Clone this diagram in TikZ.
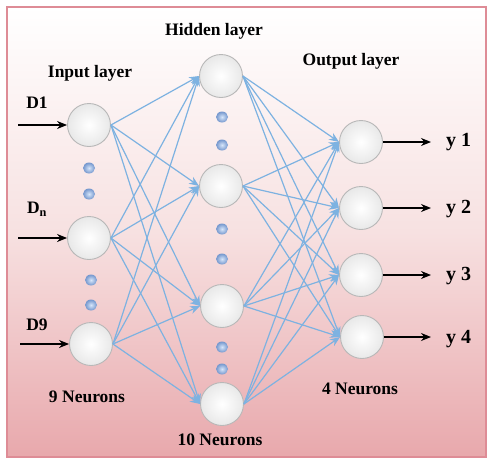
\documentclass[tikz,border=0pt]{standalone}
\usepackage{fontspec}
\setmainfont{Liberation Serif}
\usetikzlibrary{arrows.meta,calc,shapes.geometric}
\definecolor{linkblue}{RGB}{125,178,225}
\definecolor{framepink}{RGB}{222,140,150}
\definecolor{bgpink}{RGB}{232,168,172}
\definecolor{dotin}{RGB}{215,230,250}
\definecolor{dotout}{RGB}{115,150,205}
\tikzset{
  neuron/.style={circle, minimum size=43pt, inner sep=0pt, draw=black!28, line width=0.9pt,
    inner color=white, outer color=black!9},
  dotball/.style={ellipse, minimum width=12pt, minimum height=11pt, inner sep=0pt, inner color=dotin, outer color=dotout},
  link/.style={draw=linkblue, line width=1.2pt, -{Stealth[length=10pt,width=8pt]}},
  ioarrow/.style={draw=black, line width=1.2pt, -{Stealth[length=10pt,width=8pt]}},
  lbl/.style={font=\fontsize{17.5}{20}\selectfont\bfseries, inner sep=0pt},
  ylbl/.style={font=\fontsize{20}{22}\selectfont\bfseries, inner sep=0pt, anchor=west},
}
\begin{document}
\begin{tikzpicture}[x=1pt,y=-1pt]
\useasboundingbox (0,0) rectangle (492,461);
\fill[white] (0,0) rectangle (492,461);
\shade[top color=white, bottom color=bgpink, middle color={rgb,255:red,247;green,225;blue,225}] (7,7) rectangle (486,457);
\draw[framepink, line width=1.2pt] (7,7) rectangle (486,457);

% input neurons
\node[neuron] (i1) at (89,125) {};
\node[neuron] (i2) at (89,238) {};
\node[neuron] (i3) at (91,344) {};
% hidden
\node[neuron] (h1) at (221,76) {};
\node[neuron] (h2) at (221,186) {};
\node[neuron] (h3) at (222,306) {};
\node[neuron] (h4) at (222,404) {};
% output
\node[neuron] (o1) at (361,142) {};
\node[neuron] (o2) at (361,208) {};
\node[neuron] (o3) at (361,275) {};
\node[neuron] (o4) at (362,337) {};

% dots
\node[dotball] (d1) at (89,168) {};
\node[dotball] (d2) at (89,194) {};
\node[dotball] (d3) at (91,280) {};
\node[dotball] (d4) at (91,305) {};
\node[dotball] (d5) at (222,117) {};
\node[dotball] (d6) at (222,145) {};
\node[dotball] (d7) at (222,229) {};
\node[dotball] (d8) at (222,259) {};
\node[dotball] (d9) at (222,347) {};
\node[dotball] (d10) at (222,369) {};

% links
\foreach \a in {i1,i2,i3}
  \foreach \b in {h1,h2,h3,h4}
    \draw[link] (\a.east) -- (\b.west);
\foreach \a in {h1,h2,h3,h4}
  \foreach \b in {o1,o2,o3,o4}
    \draw[link] (\a.east) -- (\b.west);

% input arrows
\coordinate (s1) at (18,125);
\coordinate (s2) at (18,238);
\coordinate (s3) at (20,344);
\draw[ioarrow] (s1) -- (i1.west);
\draw[ioarrow] (s2) -- (i2.west);
\draw[ioarrow] (s3) -- (i3.west);

% output arrows
\coordinate (e1) at (431,142);
\coordinate (e2) at (431,208);
\coordinate (e3) at (431,275);
\coordinate (e4) at (431,337);
\draw[ioarrow] (o1.east) -- (e1);
\draw[ioarrow] (o2.east) -- (e2);
\draw[ioarrow] (o3.east) -- (e3);
\draw[ioarrow] (o4.east) -- (e4);

% labels
\node[lbl] (tD1) at (37,103) {D1};
\node[lbl] (tDn) at (37,209) {D\textsubscript{n}};
\node[lbl] (tD9) at (37,325) {D9};
\node[lbl] (tin) at (90,73) {Input layer};
\node[lbl] (thid) at (214,31) {Hidden layer};
\node[lbl] (tout) at (351,61) {Output layer};
\node[lbl] (tn9) at (87,397) {9 Neurons};
\node[lbl] (tn10) at (220,440) {10 Neurons};
\node[lbl] (tn4) at (360,389) {4 Neurons};
\node[ylbl] (y1) at (446,142) {y 1};
\node[ylbl] (y2) at (446,209) {y 2};
\node[ylbl] (y3) at (446,276) {y 3};
\node[ylbl] (y4) at (446,339) {y 4};
\end{tikzpicture}
\end{document}
